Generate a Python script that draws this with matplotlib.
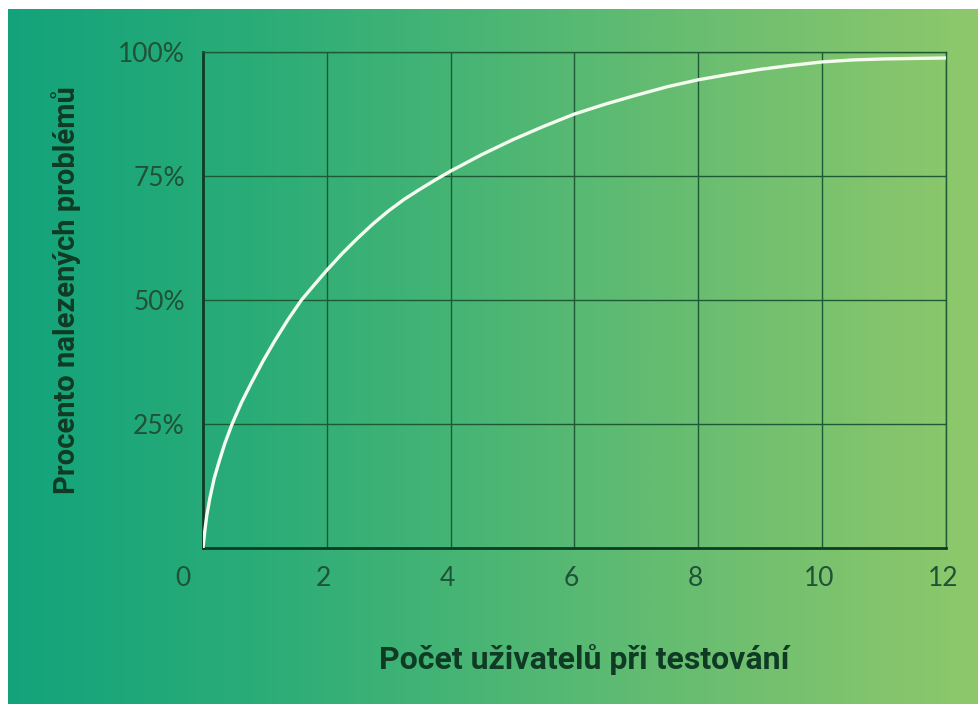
import numpy as np
import matplotlib.pyplot as plt
from matplotlib.colors import LinearSegmentedColormap
from matplotlib.transforms import ScaledTranslation

# Number of test users vs. share of usability problems found
users = [0, 0.03, 0.06, 0.11, 0.18, 0.25, 0.35, 0.47, 0.62, 0.79, 0.97, 1.16,
         1.37, 1.59, 1.8, 2.0, 2.25, 2.5, 2.75, 3.0, 3.25, 3.5, 3.75, 4.0,
         4.5, 5.0, 5.5, 6.0, 6.5, 7.0, 7.5, 8.0, 8.5, 9.0, 9.5, 10.0, 10.5,
         11.0, 11.5, 12.0]
found_pct = [0, 3.5, 6.5, 10.0, 14.0, 17.0, 21.0, 25.0, 29.3, 33.5, 37.7, 41.8,
             46.0, 50.0, 53.1, 56.0, 59.4, 62.5, 65.4, 68.0, 70.3, 72.3, 74.2, 76.0,
             79.3, 82.3, 85.0, 87.5, 89.5, 91.3, 93.0, 94.4, 95.5, 96.5, 97.3, 98.0, 98.4,
             98.6, 98.7, 98.8]

x_ticks = [0, 2, 4, 6, 8, 10, 12]
y_ticks = [25, 50, 75, 100]
y_tick_labels = ['25%', '50%', '75%', '100%']

W, H = 979, 704
fig = plt.figure(figsize=(W / 100, H / 100), dpi=100)
fig.patch.set_facecolor('white')

# gradient background (thin white margin top/left like the original)
bg = fig.add_axes([8 / W, 0, 1 - 8 / W, 1 - 9 / H])
cmap = LinearSegmentedColormap.from_list(
    'bg', ['#13a37b', '#2aac78', '#4bb674', '#6fbf70', '#8fc86b'])
bg.imshow(np.linspace(0, 1, 512)[None, :], aspect='auto', cmap=cmap,
          extent=[0, 1, 0, 1])
bg.set_axis_off()

ax = fig.add_axes([203 / W, 156 / H, 743 / W, 496 / H])
ax.patch.set_alpha(0)

dark = '#0f3b25'
grid_c = '#1d5a33'
tick_c = '#1f5237'

ax.plot(users, found_pct, color='#f4fcef', lw=2.4, solid_capstyle='round', zorder=3)

ax.set_xlim(0, 12)
ax.set_ylim(0, 100)
ax.set_xticks(x_ticks)
ax.set_yticks(y_ticks)
ax.set_yticklabels(y_tick_labels)
ax.grid(True, color=grid_c, lw=1.0)
ax.tick_params(length=0, labelsize=19, labelcolor=tick_c)
ax.tick_params(axis='x', pad=13)
ax.tick_params(axis='y', pad=13)
for lbl in ax.get_xticklabels() + ax.get_yticklabels():
    lbl.set_fontfamily('Lato')
    lbl.set_fontweight('normal')

# the "0" sits left of the axis corner, the others slightly left of their gridline
for i, lbl in enumerate(ax.get_xticklabels()):
    dx = -20 if i == 0 else -3
    lbl.set_transform(lbl.get_transform() + ScaledTranslation(dx / 100, 0, fig.dpi_scale_trans))

for side in ['top', 'right']:
    ax.spines[side].set_color(grid_c)
    ax.spines[side].set_linewidth(1.0)
for side in ['left', 'bottom']:
    ax.spines[side].set_color(dark)
    ax.spines[side].set_linewidth(2.0)

fig.text(584 / W, 1 - 660 / H, 'Počet uživatelů při testování', ha='center',
         va='center', fontsize=23, fontweight='semibold', family='Roboto',
         color=dark)
fig.text(66 / W, 1 - 290 / H, 'Procento nalezených problémů', ha='center',
         va='center', rotation=90, fontsize=21, fontweight='semibold',
         family='Roboto', color=dark)

fig.savefig('out.png', dpi=100)
